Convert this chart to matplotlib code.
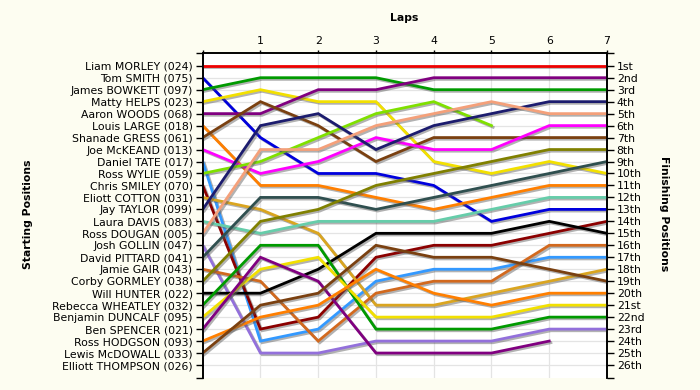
import numpy as np
import matplotlib
matplotlib.use("Agg")
import matplotlib.pyplot as plt
import matplotlib.patheffects as pe

nan = np.nan

laps = [0, 1, 2, 3, 4, 5, 6, 7]
lap_labels = ["", "1", "2", "3", "4", "5", "6", "7"]

drivers = [
    "Liam MORLEY (024)", "Tom SMITH (075)", "James BOWKETT (097)", "Matty HELPS (023)",
    "Aaron WOODS (068)", "Louis LARGE (018)", "Shanade GRESS (061)", "Joe McKEAND (013)",
    "Daniel TATE (017)", "Ross WYLIE (059)", "Chris SMILEY (070)", "Eliott COTTON (031)",
    "Jay TAYLOR (099)", "Laura DAVIS (083)", "Ross DOUGAN (005)", "Josh GOLLIN (047)",
    "David PITTARD (041)", "Jamie GAIR (043)", "Corby GORMLEY (038)", "Will HUNTER (022)",
    "Rebecca WHEATLEY (032)", "Benjamin DUNCALF (095)", "Ben SPENCER (021)",
    "Ross HODGSON (093)", "Lewis McDOWALL (033)", "Elliott THOMPSON (026)",
]

finish_labels = ["1st", "2nd", "3rd"] + [f"{i}th" for i in range(4, 21)] + \
    ["21st", "22nd", "23rd", "24th", "25th", "26th"]

# position of each driver at the end of each lap (lap 0 = start)
positions = [
    [1, 1, 1, 1, 1, 1, 1, 1],
    [2, 7, 10, 10, 11, 14, 13, 13],
    [3, 2, 2, 2, 3, 3, 3, 3],
    [4, 3, 4, 4, 9, 10, 9, 10],
    [5, 5, 3, 3, 2, 2, 2, 2],
    [6, 11, 11, 12, 13, 12, 11, 11],
    [7, 4, 6, 9, 7, 7, 7, 7],
    [8, 10, 9, 7, 8, 8, 6, 6],
    [9, 24, 23, 19, 18, 18, 17, 17],
    [10, 9, 7, 5, 4, 6, nan, nan],
    [11, 23, 22, 17, 16, 16, 15, 14],
    [12, 13, 15, 21, 21, 20, 19, 18],
    [13, 6, 5, 8, 6, 5, 4, 4],
    [14, 15, 14, 14, 14, 13, 12, 12],
    [15, 8, 8, 6, 5, 4, 5, 5],
    [16, 25, 25, 24, 24, 24, 23, 23],
    [17, 12, 12, 13, 12, 11, 10, 9],
    [18, 19, 24, 20, 19, 19, 16, 16],
    [19, 14, 13, 11, 10, 9, 8, 8],
    [20, 20, 18, 15, 15, 15, 14, 15],
    [21, 16, 16, 23, 23, 23, 22, 22],
    [22, 18, 17, 22, 22, 22, 21, 21],
    [23, 17, 19, 25, 25, 25, 24, nan],
    [24, 22, 21, 18, 20, 21, 20, 20],
    [25, 21, 20, 16, 17, 17, 18, 19],
    [nan] * 8,
]

colors = [
    "#ee0000", "#0000dd", "#009a00", "#f2e000", "#800080", "#ff7f00", "#7a4010",
    "#ff00ff", "#3399ff", "#7fe000", "#8b0000", "#daa520", "#1c1c6e", "#66cdaa",
    "#f4a07a", "#9370db", "#2f4f4f", "#d2691e", "#808000", "#000000",
    "#009a00", "#f2e000", "#800080", "#ff7f00", "#7a4010", "#000000",
]

fig = plt.figure(figsize=(7, 3.9), dpi=100, facecolor="#fdfdf1")
ax = fig.add_axes([202.7 / 700, 1 - 377.7 / 390, (607 - 202.7) / 700, (377.7 - 52.7) / 390])
ax.set_facecolor("white")

n = len(drivers)
ax.set_xlim(0, 7)
ax.set_ylim(27.06, -0.09)

# grid
for p in range(1, n + 1):
    ax.axhline(p, color="#e4e4e4", lw=0.9, zorder=0)
for l in laps[1:-1]:
    ax.axvline(l, color="#e4e4e4", lw=0.9, zorder=0)

shadow = [pe.SimpleLineShadow(offset=(1.2, -1.2), shadow_color="#555555", alpha=0.45),
          pe.Normal()]
for pos, col in zip(positions, colors):
    y = np.array(pos, dtype=float)
    if np.all(np.isnan(y)):
        continue
    ax.plot(laps, y, color=col, lw=2.0, solid_joinstyle="miter",
            path_effects=shadow, zorder=3)

label_kw = dict(fontsize=7.8, family="DejaVu Sans")

ax.set_yticks(range(1, n + 1))
ax.set_yticklabels(drivers, **label_kw)
ax.set_yticks([-0.09, 27.06], minor=True)
ax.tick_params(axis="y", which="both", direction="out", length=5, width=1, pad=2)

ax.xaxis.tick_top()
ax.set_xticks(laps)
ax.set_xticklabels(lap_labels, **label_kw)
ax.tick_params(axis="x", direction="out", length=2.5, width=1, pad=2)

ax2 = ax.twinx()
ax2.set_ylim(ax.get_ylim())
ax2.set_yticks(range(1, n + 1))
ax2.set_yticklabels(finish_labels, **label_kw)
ax2.set_yticks([-0.09, 27.06], minor=True)
ax2.tick_params(axis="y", which="both", direction="out", length=5, width=1, pad=2)

for a in (ax, ax2):
    a.spines["bottom"].set_visible(False)
    for s in ("left", "right", "top"):
        a.spines[s].set_linewidth(1.2)

fig.text(404 / 700, 1 - 18 / 390, "Laps", ha="center", va="center",
         fontsize=7.8, fontweight="bold")
fig.text(28 / 700, 1 - 214 / 390, "Starting Positions", ha="center", va="center",
         rotation=90, fontsize=7.8, fontweight="bold")
fig.text(664 / 700, 1 - 214 / 390, "Finishing Positions", ha="center", va="center",
         rotation=-90, fontsize=7.8, fontweight="bold")

fig.savefig("out.png", dpi=100, facecolor=fig.get_facecolor())
